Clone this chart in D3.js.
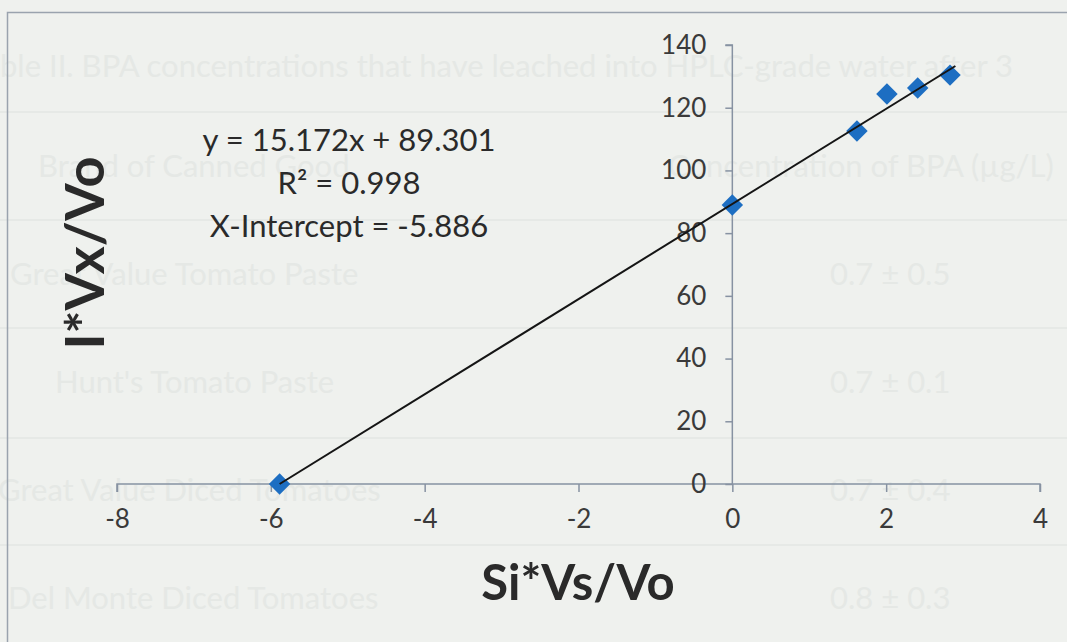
<!DOCTYPE html>
<html>
<head>
<meta charset="utf-8">
<script src="https://cdn.jsdelivr.net/npm/d3@7"></script>
<style>
  body { margin: 0; background: #eff1ee; }
  svg { display: block; font-family: Lato, "Open Sans", sans-serif; }
</style>
</head>
<body>
<div id="chart"></div>
<script>
// data
var xVals = [-5.886, 0, 1.62, 2.01, 2.41, 2.83];
var yVals = [0, 89, 112.6, 124.4, 126.3, 130.4];
var xTicks = [-8, -6, -4, -2, 0, 2, 4];
var yTicks = [0, 20, 40, 60, 80, 100, 120, 140];
var slope = 15.172, intercept = 89.301;
var fitRange = [-5.886, 2.9];
var eqLines = ["y = 15.172x + 89.301", "R² = 0.998", "X-Intercept = -5.886"];

// faint page bleed-through (table on the next page)
var ghostText = [
  ["ble II. BPA concentrations that have leached into HPLC-grade water after 3", 0, 77],
  ["Brand of Canned Good", 38, 177],
  ["Concentration of BPA (µg/L)", 668, 177],
  ["Great Value Tomato Paste", 10, 285],
  ["0.7 ± 0.5", 830, 285],
  ["Hunt's Tomato Paste", 55, 393],
  ["0.7 ± 0.1", 830, 393],
  ["Great Value Diced Tomatoes", -2, 501],
  ["0.7 ± 0.4", 830, 501],
  ["Del Monte Diced Tomatoes", 8, 609],
  ["0.8 ± 0.3", 830, 609]
];
var ghostRules = [112, 220, 328, 438, 545];

var width = 1067, height = 642;
var svg = d3.select('#chart').append('svg')
  .attr('width', width)
  .attr('height', height);

svg.append('rect').attr('width', width).attr('height', height).attr('fill', '#eff1ee');

// ghost layer
svg.selectAll('.ghost-rule').data(ghostRules).enter().append('line')
  .attr('x1', 0).attr('x2', width)
  .attr('y1', function(d){ return d; }).attr('y2', function(d){ return d; })
  .attr('stroke', '#e6e9e6').attr('stroke-width', 2);
svg.selectAll('.ghost-text').data(ghostText).enter().append('text')
  .attr('x', function(d){ return d[1]; })
  .attr('y', function(d){ return d[2]; })
  .attr('font-size', 31)
  .attr('fill', '#e5e8e5')
  .text(function(d){ return d[0]; });

// chart border (only top and left visible in the crop)
svg.append('path')
  .attr('d', 'M 7.5 ' + height + ' V 12.5 H ' + width)
  .attr('fill', 'none')
  .attr('stroke', '#9aa3ae')
  .attr('stroke-width', 1.5);

var x = d3.scaleLinear().domain([-8, 4]).range([117, 1040]);
var y = d3.scaleLinear().domain([0, 140]).range([484, 45]);

var axisColor = '#8792a2';
var textColor = '#3a3a3a';

// x axis at y = 0
var gx = svg.append('g')
  .attr('transform', 'translate(0,' + y(0) + ')')
  .call(d3.axisBottom(x).tickValues(xTicks).tickSize(8).tickPadding(18));
gx.select('.domain').attr('stroke', axisColor).attr('stroke-width', 1.5)
  .attr('d', 'M' + x(-8) + ',8V0H' + x(4) + 'V8');
gx.selectAll('.tick line').attr('stroke', axisColor).attr('stroke-width', 1.5);
gx.selectAll('.tick text').attr('fill', textColor).attr('font-size', 26)
  .attr('font-family', 'Lato, "Open Sans", sans-serif')
  .text(function(d){ return d < 0 ? '-' + Math.abs(d) : d; });

// y axis at x = 0
var gy = svg.append('g')
  .attr('transform', 'translate(' + x(0) + ',0)')
  .call(d3.axisLeft(y).tickValues(yTicks).tickSize(7).tickPadding(19));
gy.select('.domain').attr('stroke', axisColor).attr('stroke-width', 1.5)
  .attr('d', 'M-7,' + y(140) + 'H0V' + y(0));
gy.selectAll('.tick line').attr('stroke', axisColor).attr('stroke-width', 1.5);
gy.selectAll('.tick text').attr('fill', textColor).attr('font-size', 26)
  .attr('font-family', 'Lato, "Open Sans", sans-serif');

// points (rotated squares, like the Excel diamond marker)
var pts = xVals.map(function(v, i){ return [v, yVals[i]]; });
svg.selectAll('.pt').data(pts).enter().append('path')
  .attr('d', d3.symbol().type(d3.symbolSquare).size(230))
  .attr('transform', function(d){ return 'translate(' + x(d[0]) + ',' + y(d[1]) + ') rotate(45)'; })
  .attr('fill', '#1d6ec2');

// linear trend line
var line = d3.line()
  .x(function(d){ return x(d); })
  .y(function(d){ return y(slope * d + intercept); });
svg.append('path')
  .datum(fitRange)
  .attr('d', line)
  .attr('fill', 'none')
  .attr('stroke', '#151515')
  .attr('stroke-width', 2);

// equation label
svg.selectAll('.eq').data(eqLines).enter().append('text')
  .attr('x', 349)
  .attr('y', function(d, i){ return 151 + i * 43; })
  .attr('text-anchor', 'middle')
  .attr('font-size', 31)
  .attr('fill', '#2a2a2a')
  .text(function(d){ return d; });

// axis titles
svg.append('text')
  .attr('x', 578).attr('y', 600)
  .attr('text-anchor', 'middle')
  .attr('font-size', 49).attr('font-weight', 'bold')
  .attr('fill', '#2a2a2a')
  .text('Si*Vs/Vo');

svg.append('text')
  .attr('transform', 'translate(104,253) rotate(-90)')
  .attr('text-anchor', 'middle')
  .attr('font-size', 54).attr('font-weight', 'bold')
  .attr('fill', '#2a2a2a')
  .text('I*Vx/Vo');
</script>
</body>
</html>
